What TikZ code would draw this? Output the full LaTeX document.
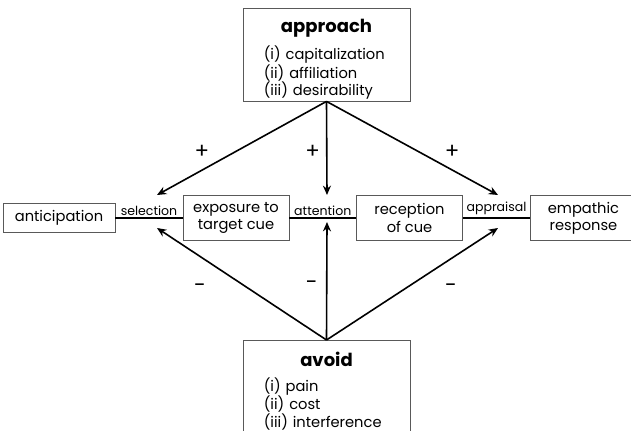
\documentclass[tikz,border=0pt]{standalone}
\usepackage{fontspec}
\setmainfont{Poppins}
\usetikzlibrary{positioning,calc,arrows.meta}
\newcommand{\bnode}[4][]{\node [box,#1] (#2) at (#3) {#4}}

\begin{document}
\begin{tikzpicture}[x=0.75pt,y=-0.75pt,
  box/.style={draw=black!65, line width=0.6pt, inner sep=0pt, align=center,
    minimum width=79.5pt, minimum height=33.75pt, font=\fontsize{11}{13}\selectfont},
  listbox/.style={box, minimum width=125.25pt, minimum height=69.75pt,
    text width=94pt, align=left, font=\fontsize{11}{13}\selectfont},
  link/.style={line width=1.2pt},
  arr/.style={line width=1.2pt, -{Stealth[length=7pt,width=6pt]}},
  lbl/.style={font=\fontsize{9.4}{11}\selectfont, inner sep=1.5pt},
  sign/.style={font=\fontsize{16}{18}\selectfont}]

\useasboundingbox (0,0) rectangle (631,431);

\bnode[minimum width=84pt, minimum height=21.75pt]{ANT}{59,218}{anticipation};
\bnode{EXP}{236,218}{exposure to\\target cue};
\bnode{REC}{409.5,218}{reception\\of cue};
\bnode{EMP}{583.5,218}{empathic\\response};

\bnode[listbox]{APP}{326.5,54.5}{%
  \makebox[94pt]{\rule{0pt}{17pt}\fontsize{13.5}{16}\bfseries approach}\\[5.5pt]
  (i) capitalization\\(ii) affiliation\\(iii) desirability};
\bnode[listbox, anchor=north]{AVO}{326.5,340}{%
  \makebox[94pt]{\rule{0pt}{17pt}\fontsize{13.5}{16}\bfseries avoid}\\[5.5pt]
  (i) pain\\(ii) cost\\(iii) interference};

\draw[link] (ANT) -- (EXP) node [midway, above, lbl] (SEL) {selection};
\draw[link] (EXP) -- (REC) node [midway, above, lbl] (ATT) {attention};
\draw[link] (REC) -- (EMP) node [midway, above, lbl] (APR) {appraisal};

\coordinate (selT) at (157,195);
\coordinate (selB) at (157,228);
\coordinate (attT) at (327,195);
\coordinate (attB) at (327,222);
\coordinate (aprT) at (498,195);
\coordinate (aprB) at (498,228);

\draw[arr] (APP.south) -- (selT) node [pos=0.54, xshift=-24.75pt, sign] {+};
\draw[arr] (APP.south) -- (attT) node [pos=0.54, xshift=-10.5pt, sign] {+};
\draw[arr] (APP.south) -- (aprT) node [pos=0.54, xshift=24.75pt, sign] {+};

\draw[arr] (AVO.north) -- (selB) node [pos=0.51, xshift=-30pt, yshift=-3.75pt, sign] {-};
\draw[arr] (AVO.north) -- (attB) node [pos=0.51, xshift=-11.25pt, yshift=-3.75pt, sign] {-};
\draw[arr] (AVO.north) -- (aprB) node [pos=0.51, xshift=27.75pt, yshift=-3.75pt, sign] {-};

\end{tikzpicture}
\end{document}
